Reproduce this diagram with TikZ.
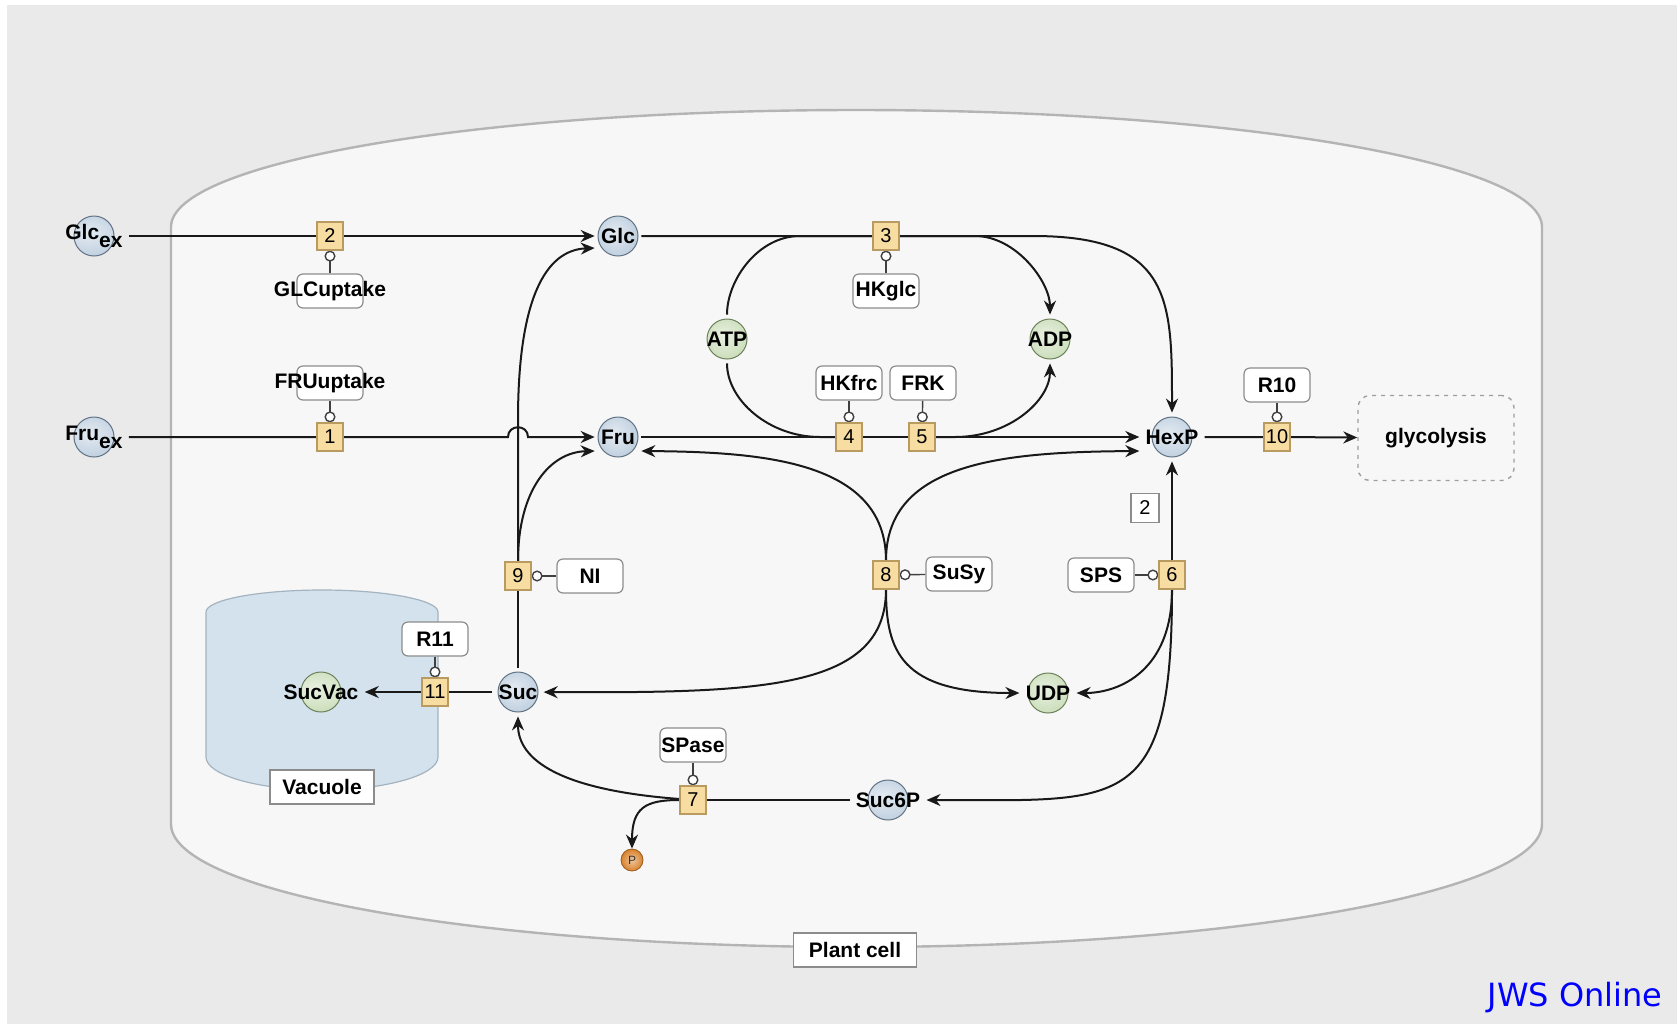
\documentclass[tikz,border=0pt]{standalone}
\usepackage{fontspec}
\setmainfont{Liberation Sans}
\newfontfamily\jwsfont{DejaVu Sans}
\usetikzlibrary{arrows.meta}
\pgfdeclarelayer{bg}
\pgfdeclarelayer{edges}
\pgfsetlayers{bg,edges,main}
\definecolor{bgGray}{HTML}{EAEAEA}
\definecolor{cellFill}{HTML}{F7F7F7}
\definecolor{cellLine}{HTML}{B4B4B4}
\definecolor{vacFill}{HTML}{D4E2ED}
\definecolor{vacLine}{HTML}{A3B3BF}
\definecolor{spBlue}{HTML}{94AFCA}
\definecolor{spGreen}{HTML}{A6C68A}
\definecolor{spOrange}{HTML}{D9822B}
\definecolor{rxFill}{HTML}{F8DDA2}
\definecolor{rxLine}{HTML}{B99B62}
\definecolor{boxLine}{HTML}{8C8C8C}
\colorlet{spcol}{spBlue}
% sphere-like shading for metabolite circles; recoloured through spcol
\pgfdeclareradialshading[spcol]{sphere}{\pgfpoint{-4bp}{4bp}}{%
  color(0bp)=(spcol!25!white); color(24bp)=(spcol!60!white);
  color(40bp)=(spcol); color(50bp)=(spcol!70!black)}
\begin{document}
\begin{tikzpicture}[x=0.5pt,y=-0.5pt,
  flow/.style={draw=black!90, line width=1pt},
  arr/.style={-{Stealth[length=7pt,width=6pt]}},
  mod/.style={draw=black!75, line width=0.7pt, -{Circle[length=5.5pt,width=5.5pt,fill=white]}},
  species/.style={rectangle, inner sep=3pt, minimum width=21pt, minimum height=24pt,
    font=\fontsize{10.5}{12}\selectfont\bfseries, text=black,
    path picture={\colorlet{spcol}{#1}
      \shade[shading=sphere] (path picture bounding box.center) circle (10pt);
      \draw[#1!65!black, line width=0.5pt] (path picture bounding box.center) circle (10pt);}},
  rx/.style={rectangle, draw=rxLine, fill=rxFill, line width=0.6pt, minimum width=13pt,
    minimum height=14pt, inner sep=0pt, font=\fontsize{10}{10}\selectfont},
  enz/.style={rectangle, rounded corners=3pt, draw=boxLine, fill=white, line width=0.6pt,
    minimum width=33pt, minimum height=17pt, inner sep=0pt, font=\fontsize{10.5}{12}\selectfont\bfseries},
  lbl/.style={font=\fontsize{10.5}{12}\selectfont\bfseries, inner sep=0pt},
  tag/.style={rectangle, draw=boxLine, fill=white, line width=0.6pt, inner sep=0pt,
    font=\fontsize{10.5}{12}\selectfont\bfseries},
  glyco/.style={rectangle, rounded corners=6pt, draw=gray!75, dash pattern=on 2pt off 2.5pt,
    line width=0.7pt, minimum width=78pt, minimum height=42.5pt, font=\fontsize{10.5}{12}\selectfont\bfseries},
  pstyle/.style={circle, minimum size=11pt, inner sep=0pt, draw=spOrange!70!black, line width=0.4pt,
    inner color=spOrange!45!white, outer color=spOrange, font=\fontsize{6}{6}\selectfont, text=black!80}
]
\useasboundingbox (0,0) rectangle (1677,1024);

% background, plant cell and vacuole compartments
\begin{pgfonlayer}{bg}
  \fill[bgGray] (7,5) rectangle (1677,1024);
  \draw[cellLine, fill=cellFill, line width=1.2pt]
    (171,824) -- (171,227) .. controls (171,162) and (478,110) .. (856,110)
    .. controls (1234,110) and (1542,162) .. (1542,227) -- (1542,824)
    .. controls (1542,892) and (1234,947) .. (856,947)
    .. controls (478,947) and (171,892) .. (171,824) -- cycle;
  \draw[vacLine, fill=vacFill, line width=0.6pt]
    (206,757) -- (206,612) .. controls (206,600) and (258,590) .. (322,590)
    .. controls (386,590) and (438,600) .. (438,612) -- (438,757)
    .. controls (438,775) and (386,790) .. (322,790)
    .. controls (258,790) and (206,775) .. (206,757) -- cycle;
\end{pgfonlayer}

% metabolites
\node[species=spBlue] (glcex) at (94,236) {Glc\raisebox{-4pt}{ex}};
\node[species=spBlue] (fruex) at (94,437) {Fru\raisebox{-4pt}{ex}};
\node[species=spBlue] (glc) at (618,236) {Glc};
\node[species=spBlue] (fru) at (618,437) {Fru};
\node[species=spGreen] (atp) at (727,339) {ATP};
\node[species=spGreen] (adp) at (1050,339) {ADP};
\node[species=spBlue] (hexp) at (1172,437) {HexP};
\node[species=spBlue] (suc) at (518,692) {Suc};
\node[species=spGreen] (sucvac) at (321,692) {SucVac};
\node[species=spGreen] (udp) at (1048,693) {UDP};
\node[species=spBlue] (suc6p) at (888,800) {Suc6P};
\node[pstyle] (pi) at (632,860) {P};

% reactions
\node[rx] (r1) at (330,437) {1};
\node[rx] (r2) at (330,236) {2};
\node[rx] (r3) at (886,236) {3};
\node[rx] (r4) at (849,437) {4};
\node[rx] (r5) at (922,437) {5};
\node[rx] (r6) at (1172,575) {6};
\node[rx] (r7) at (693,800) {7};
\node[rx] (r8) at (886,575) {8};
\node[rx] (r9) at (518,576) {9};
\node[rx] (r10) at (1277,437) {10};
\node[rx] (r11) at (435,692) {11};

% enzymes
\node[enz, label={[lbl]center:GLCuptake}] (e2) at (330,291) {};
\node[enz, label={[lbl]center:FRUuptake}] (e1) at (330,383) {};
\node[enz] (e3) at (886,291) {HKglc};
\node[enz] (e4) at (849,383) {HKfrc};
\node[enz] (e5) at (923,383) {FRK};
\node[enz] (e10) at (1277,385) {R10};
\node[enz] (e9) at (590,576) {NI};
\node[enz] (e8) at (959,574) {SuSy};
\node[enz] (e6) at (1101,575) {SPS};
\node[enz] (e11) at (435,639) {R11};
\node[enz] (e7) at (693,745) {SPase};

% other labels
\node[glyco] (glyco) at (1436,438) {glycolysis};
\node[tag, minimum width=14pt, minimum height=14.5pt, font=\fontsize{10}{10}\selectfont] (lab2) at (1145,508) {2};
\node[tag, minimum width=52pt, minimum height=17pt] (vaclbl) at (322,787) {Vacuole};
\node[tag, minimum width=61.5pt, minimum height=17pt] (celllbl) at (855,950) {Plant cell};
\node[font=\jwsfont\fontsize{16}{16}\selectfont, text=blue, anchor=base east, inner sep=0pt] (jws) at (1663,1006) {JWS Online};

% reaction connectors
\begin{pgfonlayer}{edges}
  \draw[flow,arr] (glcex) -- (r2) -- (glc);
  \draw[flow,arr] (fruex) -- (r1) -- (508,437) .. controls (508,424) and (528,424) .. (528,437) -- (fru);
  \draw[flow,arr] (glc) -- (r3) -- (1033,236) .. controls (1172,236) and (1172,300) .. (hexp);
  \draw[flow] (atp) .. controls (727,280) and (758,236) .. (800,236) -- (r3);
  \draw[flow,arr] (r3) -- (975,236) .. controls (1016,236) and (1050,282) .. (adp);
  \draw[flow,arr] (fru) -- (r4) -- (r5) -- (hexp);
  \draw[flow] (atp) .. controls (727,400) and (769,437) .. (820,437) -- (r4);
  \draw[flow,arr] (r5) -- (955,437) .. controls (1010,437) and (1050,400) .. (adp);
  \draw[flow,arr] (hexp) -- (r10) -- (glyco);
  % invertase
  \draw[flow] (suc) -- (r9);
  \draw[flow,arr] (r9) -- (518,420) .. controls (518,300) and (545,250) .. ([yshift=-6pt]glc.west);
  \draw[flow,arr] (r9) .. controls (518,490) and (550,452) .. ([yshift=-7pt]fru.west);
  % sucrose synthase
  \draw[flow,arr] (r8) .. controls (886,460) and (760,452) .. ([yshift=-7pt]fru.east);
  \draw[flow,arr] (r8) .. controls (886,460) and (1010,452) .. ([yshift=-7pt]hexp.west);
  \draw[flow,arr] (r8) .. controls (886,690) and (760,693) .. (suc);
  \draw[flow,arr] (r8) .. controls (886,650) and (900,693) .. (udp);
  % sucrose phosphate synthase
  \draw[flow,arr] (r6) -- (hexp);
  \draw[flow,arr] (r6) .. controls (1172,670) and (1120,693) .. (udp);
  \draw[flow,arr] (r6) .. controls (1172,815) and (1120,800) .. (suc6p);
  % sucrose phosphatase
  \draw[flow] (suc6p) -- (r7);
  \draw[flow,arr] (r7) .. controls (560,790) and (518,760) .. (suc);
  \draw[flow,arr] (r7) .. controls (645,800) and (632,808) .. (pi);
  % vacuolar transport
  \draw[flow,arr] (suc) -- (r11) -- (sucvac);
  % enzyme modifiers
  \draw[mod] (e2) -- (r2);
  \draw[mod] (e1) -- (r1);
  \draw[mod] (e3) -- (r3);
  \draw[mod] (e4) -- (r4);
  \draw[mod] (e5) -- (r5);
  \draw[mod] (e10) -- (r10);
  \draw[mod] (e9) -- (r9);
  \draw[mod] (e8) -- (r8);
  \draw[mod] (e6) -- (r6);
  \draw[mod] (e11) -- (r11);
  \draw[mod] (e7) -- (r7);
\end{pgfonlayer}
\end{tikzpicture}
\end{document}
